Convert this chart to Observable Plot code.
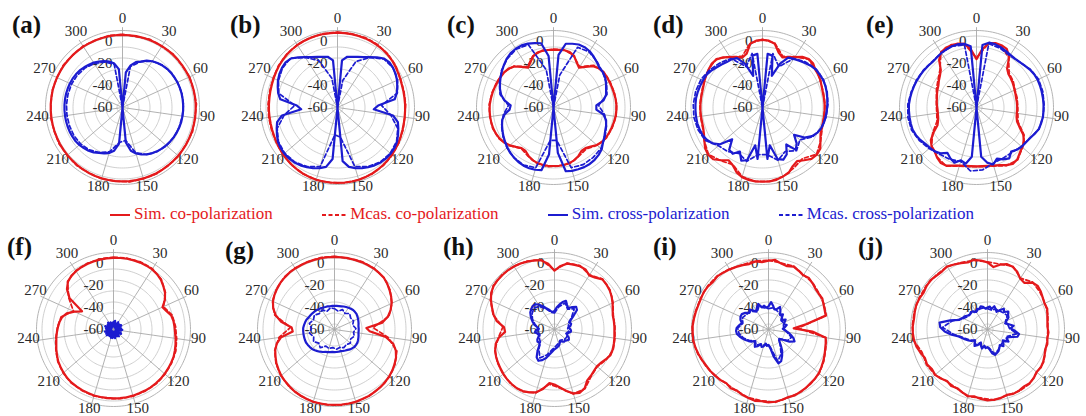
<!DOCTYPE html>
<html><head><meta charset="utf-8">
<script src="https://cdn.jsdelivr.net/npm/d3@7"></script>
<script src="https://cdn.jsdelivr.net/npm/@observablehq/plot@0.6"></script>
<style>
html,body{margin:0;padding:0;background:#fff;}
#root{position:relative;width:1086px;height:416px;overflow:hidden;font-family:"Liberation Serif","Tinos","Times New Roman","DejaVu Serif",serif;background:#fff;}
.panel{position:absolute;width:200px;height:200px;}
.panel svg{overflow:visible;}
.tag{position:absolute;font-weight:bold;font-size:25px;line-height:25px;color:#111;z-index:5;}
#legend{position:absolute;left:110px;width:864px;top:204px;height:20px;display:flex;justify-content:space-between;align-items:center;font-size:17px;line-height:20px;z-index:5;}
#legend .item{display:flex;align-items:center;white-space:nowrap;}
#legend svg{margin-right:2px;}
</style></head>
<body><div id="root"></div>
<script>
// ---- axis / tick definitions ----
const angleTicks = [0, 30, 60, 90, 120, 150, 180, 210, 240, 270, 300];
const ringLevels = [-60, -50, -40, -30, -20, -10, 0];
const ringLabels = [0, -20, -40, -60];
const DB_MIN = -65, DB_MAX = 5;
const FULL_TURN = 330;          // the 11 labelled spokes share the full circle
const seriesNames = ["Sim. co-polarization", "Mcas. co-polarization", "Sim. cross-polarization", "Mcas. cross-polarization"];
const panelTags = ["(a)","(b)","(c)","(d)","(e)","(f)","(g)","(h)","(i)","(j)"];

// ---- data (dB), sim series: 66 samples around the circle, measured: 33 samples ----
const simCoA = [1.0,1.0,1.1,1.1,1.2,1.3,1.3,1.4,1.4,1.5,1.5, 1.5,1.6,1.6,1.6,1.6,1.6,1.6,1.7,1.7,1.8,1.8, 1.9,1.9,2.0,2.0,2.1,2.1,2.2,2.2,2.2,2.2,2.2, 2.2,2.2,2.1,2.1,2.0,1.9,1.8,1.6,1.4,1.2,1.0, 0.8,0.6,0.5,0.4,0.3,0.3,0.3,0.3,0.4,0.4,0.5, 0.5,0.6,0.6,0.7,0.7,0.8,0.8,0.9,0.9,1.0,1.0];
const measCoA = [1.5,0.6,1.8,1.0,2.0,1.2,2.2,1.5,2.3,1.4,2.4,1.7,2.6,2.0,2.8,2.4,2.9,2.3,2.6,1.9,2.2,1.4,1.5,0.7,0.9,0.2,0.8,0.4,1.2,0.6,1.4,0.9,1.6];
const simCrossA = [-65,-33,-26,-22,-20,-17,-15,-13.5,-12.3,-11.3,-10.8, -10.4,-10.1,-9.9,-9.8,-9.8,-9.8,-9.8,-9.9,-10,-10.3,-10.7, -11.2,-11.8,-12.5,-13.3,-14.3,-15.5,-17,-19,-21.5,-25,-33, -65,-32,-25,-22,-20,-18.5,-16.5,-15,-14,-13,-12.5, -12.3,-12.2,-12.2,-12.2,-12.2,-12.2,-12.2,-12.2,-12.2,-12.3,-12.4, -12.6,-13,-13.5,-14.5,-15.5,-16.5,-18,-19.5,-21.5,-24,-30];
const measCrossA = [-65,-27,-20,-15,-12,-10.5,-10,-9.5,-9.5,-10,-10.5,-11,-12,-14,-17,-22,-35,-33,-23,-19,-16,-14.5,-14,-14,-14,-14,-14,-14,-14.5,-15.5,-17.5,-20.5,-25];

const simCoB = [3.0,3.0,2.9,2.8,2.7,2.5,2.2,1.8,1.2,0.5,-0.5, -1.5,-2.3,-3.0,-3.3,-3.5,-3.5,-3.5,-3.3,-3.0,-2.5,-1.8, -1.0,-0.3,0.5,1.2,1.8,2.3,2.8,3.2,3.4,3.5,3.5, 3.5,3.5,3.5,3.4,3.2,2.8,2.3,1.7,1.0,0.3,-0.5, -1.2,-1.8,-2.2,-2.5,-2.6,-2.6,-2.6,-2.5,-2.2,-1.8,-1.2, -0.5,0.3,1.0,1.6,2.1,2.5,2.8,2.9,3.0,3.0,3.0];
const measCoB = [3.5,3.2,3.4,2.8,1.8,0.2,-2.0,-2.8,-3.0,-3.2,-2.0,-0.6,1.0,2.2,3.2,3.6,3.8,3.6,3.5,3.0,2.0,0.6,-0.8,-1.6,-1.8,-1.8,-1.6,-0.8,0.8,2.0,2.8,3.2,3.4];
const simCrossB = [-65,-22,-18,-17,-15.5,-13.5,-10.5,-7,-3.5,-2.5,-3, -4,-5.5,-7.5,-9.5,-12.5,-28,-32,-14,-8.5,-6.5,-4.5, -2.5,-1.5,-1,-1,-1.5,-2.5,-4,-5.5,-7.5,-10,-16, -65,-18,-10,-7.5,-5.5,-4,-2.5,-1.5,-1,-1,-1.5, -2.5,-4.5,-6.5,-8.5,-14,-32,-28,-12.5,-9.5,-7.5,-5.5, -4,-3,-2.5,-3.5,-7,-10.5,-13.5,-15.5,-17,-18,-22];
const measCrossB = [-65,-40,-20,-11,-4,-3,-5,-9,-25,-16,-7,-3,-1.5,-2,-4.5,-9,-38,-40,-9,-4.5,-2,-1.5,-3,-7,-16,-26,-10,-6,-3.5,-3,-11,-19,-38];

const simCoC = [-12.5,-12.3,-12,-12.5,-14.5,-19,-22,-18,-13,-10.5,-9.5, -9,-9,-8.8,-8.5,-8,-7.8,-7.8,-8,-8.5,-9,-9.5, -10,-11,-13,-16,-18,-18,-15.5,-13.5,-12.5,-12,-11.8, -11.8,-11.8,-12,-12.5,-13.5,-15.5,-18,-18,-15.5,-12.5,-10, -8.5,-7.5,-7,-6.8,-6.8,-6.8,-7,-7.5,-8,-8.5,-9, -9.5,-10,-11,-13.5,-18,-22,-19,-15,-13,-12.5,-12.5];
const measCoC = [-12,-11.5,-15,-21,-12,-9,-8.5,-8,-7.5,-7.5,-8.5,-9.5,-12.5,-17,-15,-12,-11.5,-11,-12,-15,-17.5,-12,-8,-6.5,-6.5,-6.5,-7.5,-8.5,-9.5,-13,-21,-14.5,-12];
const simCrossC = [-65,-17,-6,-4.6,-3.3,-3.3,-4.2,-6,-8,-9.8,-9.8, -10.7,-12.5,-14.4,-15.8,-19,-26,-26,-19,-15.8,-14.4,-13.4, -11.6,-9.8,-7,-5.5,-4.5,-4,-4,-4.5,-5,-6,-23.6, -65,-22,-7,-6,-5.5,-5.5,-6,-7,-8,-9.5,-11, -12.5,-14,-15.5,-17,-20,-25,-26,-20,-16,-13.5,-11.5, -9.5,-7.5,-5.5,-3.5,-2,-1.5,-1.5,-2.5,-4,-5.5,-18];
const measCrossC = [-65,-35,-6,-5,-7.5,-10,-12,-15,-24,-18,-14,-11,-8,-7,-6.5,-8,-35,-35,-8,-6,-7,-9,-12,-15,-19,-24,-15,-11,-7,-4,-2,-3.5,-30];

const simCoD = [-3.5,-4,-6,-13,-16,-13.4,-10.6,-6.4,-4,-4,-6, -6,-7,-8,-8.5,-8.5,-8.5,-8.5,-8.5,-8.5,-8,-7, -4.2,-0.5,0.4,-0.5,-4,-7,-5,-1,0.5,2,2.5, 2.5,2.5,2,1,-1.5,-6,-8,-4,0,0.5,-1, -4,-6.5,-8,-8.5,-8.5,-8.5,-8.5,-8.5,-8.5,-8,-7, -6,-5,-4,-4.5,-7,-10.5,-13.5,-16,-14,-6,-4];
const measCoD = [-3,-5.5,-15,-10,-4.5,-5.5,-7,-8,-8,-8.5,-7.5,-4,0,-6,-3,0.5,2.5,2.5,0.5,-6.5,-3.5,0,-4,-7.5,-8,-8,-8,-6.5,-5,-4,-10,-15,-5.5];
const simCrossD = [-65,-16,-17,-35,-22,-14,-12.5,-11,-9,-7,-5.5, -5,-4.5,-4.5,-5,-5.5,-6,-6.5,-7,-7.5,-8.5,-10, -13,-18,-27,-20,-16,-25,-17,-14,-16,-30,-18, -65,-18,-30,-15,-13,-20,-15,-16,-25,-14,-9, -6.5,-5,-4.5,-4,-4,-4,-4,-4,-4.5,-5,-5.5, -6,-7.5,-9.5,-11,-12.5,-13,-14.5,-22,-35,-17,-16];
const measCrossD = [-65,-15,-25,-12,-8,-5,-4,-4.5,-5.5,-6.5,-8,-12,-20,-15,-20,-15,-22,-22,-14,-18,-14,-12,-5,-3,-2,-2,-2.5,-3.5,-6,-9,-12,-25,-15];

const simCoE = [-21,-12,-5.5,-4,-4,-5,-10,-20,-23,-24,-25, -26,-27,-27.5,-28,-28,-28,-28,-28,-27.5,-26,-22, -16,-12,-10,-8,-5,-4,-6,-8.5,-10,-11,-11.5, -11.5,-11.5,-11,-10,-8,-5.5,-5,-7,-10,-11,-14, -20,-26,-28,-29,-29.5,-29.5,-29,-28.5,-28,-27,-26, -25,-23,-21,-18,-10,-5.5,-4,-4,-4.5,-6,-12];
const measCoE = [-20,-5,-4.5,-11,-22,-24,-26.5,-27,-27.5,-27,-25,-15,-9.5,-4.5,-5.5,-9.5,-11,-11,-9.5,-5,-7.5,-11,-19,-27,-28.5,-28.5,-27.5,-25,-22,-17,-5,-3.5,-6];
const simCrossE = [-65,-8,-5,-5,-6,-7,-8,-8.5,-8,-7,-5.5, -4.5,-4,-4,-4,-4,-4,-4,-4,-4.5,-5,-7, -9,-10,-10.5,-12,-14,-10,-12,-15,-11,-14,-20, -65,-20,-13,-15,-11,-13,-16,-12,-10,-9,-8, -6,-4.5,-3.5,-3.5,-3.5,-3.5,-3.5,-4,-4.5,-5,-5.5, -6,-6.5,-7,-7.5,-7,-6,-5.5,-5,-5,-6,-9];
const measCrossE = [-65,-6,-7,-9,-8,-5,-3,-3,-3.5,-4,-5,-9,-11,-13,-13,-12,-8,-7,-14,-12,-11,-8,-5,-2.5,-2,-2.5,-4,-5,-6,-7,-6,-5,-7];

const simCoF = [0,0.3,0.5,0.5,0.5,0.3,0,-1,-2.5,-5,-7.5, -11,-16,-14,-11,-10,-9.5,-9,-8,-7,-6,-5, -4.5,-4,-3.5,-3,-2.8,-2.5,-2.5,-2.5,-2.3,-2.3,-2.3, -2.3,-2.5,-2.5,-2.5,-2.8,-3,-3.3,-3.5,-4,-5,-6, -7,-8.5,-10,-11.5,-12.5,-13.5,-14.5,-15.5,-17,-20,-26, -32,-16,-9,-5,-3,-2,-1.3,-0.8,-0.5,-0.3,-0.1];
const measCoF = [0.8,1,1.2,0.6,-2,-7,-15,-10,-8.5,-7,-5,-4,-3,-2.2,-2,-1.8,-1.8,-2,-2,-2.5,-3,-4.5,-6.5,-9.5,-12,-14,-16,-25,-15,-4.5,-1.5,-0.3,0.3];
const simCrossF = [-58,-62,-57,-61,-59,-63,-57,-60,-62,-58,-61, -57,-63,-59,-60,-58,-62,-57,-61,-63,-58,-60, -57,-62,-59,-61,-57,-63,-58,-60,-62,-57,-59, -61,-58,-63,-57,-60,-62,-58,-61,-59,-57,-63, -60,-58,-62,-57,-61,-59,-63,-58,-60,-57,-62, -59,-61,-58,-63,-57,-60,-62,-58,-61,-59,-60];
const measCrossF = [-60,-57,-62,-58,-61,-59,-57,-63,-58,-60,-62,-57,-61,-59,-58,-63,-60,-57,-62,-58,-61,-59,-57,-63,-60,-58,-62,-57,-61,-59,-58,-62,-60];

const simCoG = [1,1,1,1,1,1,1,0.5,0,-1.5,-3.5, -5.5,-8,-11,-15,-21,-36,-33,-18,-10,-6,-3.5, -2,-0.5,0.5,1.5,2,2.5,3,3,3.5,3.5,3.5, 3.5,3.5,3.5,3.5,3,2.5,2,1,0,-1,-2.5, -4,-6,-8,-11,-16,-27,-26,-16,-10,-6,-3.5, -2,-1,0,0.5,1,1,1,1,1,1,1];
const measCoG = [1.5,0.8,1.6,1.2,0.2,-3,-7.5,-14,-30,-16,-5,-1.5,1,2,3.2,3.8,4,3.8,3.6,2.8,1.5,-0.5,-3.5,-7.5,-14,-25,-9,-3,-0.5,1,1.5,1.2,1.6];
const simCrossG = [-43.5,-43.5,-43.3,-43,-42.5,-42,-41.5,-41,-40.5,-40.5,-40.5, -41,-41.5,-42,-42.5,-43,-43,-43,-43,-42.5,-42,-41.5, -41,-41,-41,-41.5,-42,-43,-43.5,-44,-44.5,-44.5,-44.5, -44.5,-44.5,-44,-43.5,-43,-42,-41,-40,-39,-38,-37.5, -37,-36.5,-36.5,-36.5,-36.5,-36.5,-36.5,-37,-37.5,-38,-39, -39.5,-40,-40.5,-41,-41.5,-42,-42.5,-43,-43,-43.5,-43.5];
const measCrossG = [-46,-48,-45.5,-47.5,-45,-47,-46,-48,-45.5,-47.5,-46,-48,-46,-47.5,-46.5,-48,-47,-48.5,-47,-48,-44,-46,-43,-45,-42,-44,-41.5,-44,-42.5,-45,-44,-47,-45];

const simCoH = [-11.5,-7,-4,-3.5,-3,-3.5,-6.5,-5,-2,-2.5,-3.5, -5,-7,-9,-10.5,-10.5,-10.5,-10.5,-10,-9.5,-9,-9, -11,-13,-14,-13,-11.5,-10,-5,-3,-4.5,-8,-12, -15,-16,-10,-5.5,-3.5,-2,-1.5,-2,-2.5,-3.5,-4.5, -5.5,-6.5,-8,-10,-14,-20,-19,-12,-8,-5,-1.5, 1.5,3,3.5,3.5,3.5,3,2.5,1.5,0.5,-1,-5];
const measCoH = [-11,-3.5,-2.5,-6,-1.5,-3,-6.5,-10,-10,-9.5,-8.5,-10.5,-13.5,-11,-4.5,-4,-11.5,-15,-5,-1.5,-1.5,-3,-5,-7.5,-13.5,-18,-7.5,-1,3.5,4,3.5,2,-0.5];
const simCrossH = [-48,-45,-42,-39,-37,-40,-42,-39,-36.5,-38,-44, -48,-50,-49,-50,-52,-51,-50,-50,-52,-53,-52, -50,-49,-50,-51,-51,-52,-53,-52,-50,-49,-48, -47,-45,-42,-38,-35,-33,-35,-40,-45,-47,-46, -47,-49,-50,-49,-47,-48,-50,-49,-46,-44,-42, -40,-38,-37,-36,-36,-38,-41,-44,-46,-48,-49];
const measCrossH = [-50,-44,-39,-43,-39,-46,-51,-52,-53,-52,-54,-52,-52,-53,-54,-52,-50,-47,-41,-36,-42,-48,-49,-51,-49,-51,-47,-43,-40,-38,-40,-45,-49];

const simCoI = [-2.5,-1.5,-4,-5,-3.5,-5,-6.5,-5.5,-7,-8.5,-9, -8.5,-10,-11,-11.5,-30,-42,-25,-12.5,-11.5,-10.5,-9, -7.5,-6,-4.5,-3.5,-3,-2,-1.5,-0.5,-1,0,1, 1.3,0.5,1,0,-1,-2.5,-1.5,-3,-1.5,-1,0, 0.5,1.5,2.5,3.5,4,4,4,3.5,3,2.5,2.5, 3,2.5,1.5,2,1,0,-1,-2,-3,-2,-3.5];
const measCoI = [-2,-3.5,-3,-6,-6.5,-8.5,-9.5,-11,-38,-12,-10,-7,-4,-2.5,-1,-0.5,1.5,0,-0.5,-2,-2.5,-0.5,1,3,4.5,4.5,3.5,3,3,2.5,0.5,-1.5,-1.5];
const simCrossI = [-44,-40,-43,-46,-45,-42,-45,-48,-46,-49,-50, -47,-49,-50,-48,-50,-52,-50,-47,-44,-41,-39, -43,-49,-52,-51,-47,-42,-38,-34,-33,-40,-48, -51,-50,-52,-49,-48,-50,-47,-45,-47,-49,-46, -44,-42,-40,-38,-36,-35.5,-36,-38,-40,-38,-37, -37,-39,-42,-40,-43,-45,-42,-40,-44,-43,-45];
const measCrossI = [-46,-45,-46,-47,-48,-51,-50,-51,-51,-48,-43,-45,-52,-48,-40,-35,-49,-51,-50,-50,-47,-49,-45,-41,-38,-37,-41,-39,-41,-42,-46,-42,-45];

const simCoJ = [-4,-8,-5,-3,-3.5,-6,-10,-11,-6,-4.5,-5.5, -7,-8,-7.5,-9,-10,-10.5,-9.5,-10,-9,-9.5,-8, -6.5,-5.5,-6,-4,-3,-3.5,-2.5,-2,-3,-1.5,-1, -0.5,-1.5,-3,-2,-3.5,-5,-4,-5.5,-3.5,-2,-3, -1.5,-2.5,-0.5,1.5,2.5,3,3,2.5,3,3.5,3, 2,3,3.5,2.5,2,3,1.5,0,-1.5,-0.5,-2];
const measCoJ = [-3.5,-4.5,-3,-9.5,-5.5,-6.5,-7.5,-8.5,-10,-10,-9,-6,-5.5,-2.5,-2,-2.5,-0.5,-2.5,-1.5,-4.5,-5,-2,-1,-2,3,3.5,3.5,3.5,3.5,3,3,0.5,-1];
const simCrossJ = [-45,-44,-46,-43,-45,-47,-44,-41,-43,-40,-42, -43,-46,-48,-45,-41,-44,-40,-36,-37,-44,-46, -43,-48,-46,-44,-47,-45,-43,-42,-41,-43,-47, -49,-48,-50,-47,-49,-51,-48,-46,-48,-50,-47, -45,-43,-41,-38,-32,-26,-22,-21,-30,-38,-40, -41,-43,-44,-43,-44,-46,-44,-45,-43,-44,-46];
const measCrossJ = [-46,-47,-45,-45,-44,-43,-47,-46,-45,-38,-46,-44,-47,-46,-44,-42,-48,-49,-48,-52,-47,-50,-46,-42,-34,-24,-32,-41,-44,-44,-46,-45,-45];

// ---- layout (panel centres in page pixels) ----
const layout = [
  {cx:122, cy:107, tx:12,  ty:12},
  {cx:337, cy:107, tx:230, ty:12},
  {cx:553, cy:107, tx:447, ty:12},
  {cx:762, cy:107, tx:653, ty:12},
  {cx:976, cy:107, tx:866, ty:12},
  {cx:113, cy:329, tx:7,   ty:234},
  {cx:334, cy:329, tx:225, ty:238},
  {cx:554, cy:329, tx:443, ty:234},
  {cx:768, cy:329, tx:653, ty:234},
  {cx:987, cy:329, tx:858, ty:234}
];
const seriesData = [
  [simCoA, measCoA, simCrossA, measCrossA],
  [simCoB, measCoB, simCrossB, measCrossB],
  [simCoC, measCoC, simCrossC, measCrossC],
  [simCoD, measCoD, simCrossD, measCrossD],
  [simCoE, measCoE, simCrossE, measCrossE],
  [simCoF, measCoF, simCrossF, measCrossF],
  [simCoG, measCoG, simCrossG, measCrossG],
  [simCoH, measCoH, simCrossH, measCrossH],
  [simCoI, measCoI, simCrossI, measCrossI],
  [simCoJ, measCoJ, simCrossJ, measCrossJ]
];

const RED = "#e41a1c", BLUE = "#1c1cd0";
const FONT = "'Liberation Serif', Tinos, 'Times New Roman', 'DejaVu Serif', serif";
const styles = [
  {stroke: RED,  strokeWidth: 2.2, dash: null},
  {stroke: RED,  strokeWidth: 1.7, dash: "4,2.5"},
  {stroke: BLUE, strokeWidth: 2.2, dash: null},
  {stroke: BLUE, strokeWidth: 1.7, dash: "4,2.5"}
];

// polar -> (longitude, latitude) for the azimuthal-equidistant projection
const lon = a => 180 - a * 360 / FULL_TURN;
const lat = v => 90 - (Math.max(v, DB_MIN) - DB_MIN);
const toRows = values => values.map((v, i) => ({a: i * FULL_TURN / values.length, v}));
const SPAN = DB_MAX - DB_MIN;

const root = document.getElementById("root");

seriesData.forEach((set, idx) => {
  const L = layout[idx];
  const lineMarks = set.map((vals, s) => Plot.line(toRows(vals), {
    x: d => lon(d.a), y: d => lat(d.v),
    stroke: styles[s].stroke, strokeWidth: styles[s].strokeWidth,
    strokeDasharray: styles[s].dash || undefined,
    curve: "linear-closed", strokeLinejoin: "round"
  }));
  const svg = Plot.plot({
    width: 200, height: 200, margin: 0,
    style: {background: "transparent", overflow: "visible", fontFamily: FONT},
    projection: {
      type: "azimuthal-equidistant",
      rotate: [0, -90],
      domain: d3.geoCircle().center([0, 90]).radius(SPAN)(),
      inset: 23
    },
    marks: [
      Plot.geo(ringLevels, {geometry: d => d3.geoCircle().center([0, 90]).radius(d - DB_MIN)(), stroke: "#cacaca", strokeWidth: 0.9, fill: "none"}),
      Plot.geo([DB_MAX], {geometry: d => d3.geoCircle().center([0, 90]).radius(d - DB_MIN)(), stroke: "#b4b4b4", strokeWidth: 1, fill: "none"}),
      Plot.link(angleTicks, {x1: d => lon(d), y1: () => 89.999, x2: d => lon(d), y2: () => 90 - SPAN - 3, stroke: "#a8a8a8", strokeWidth: 0.9}),
      Plot.text(angleTicks, {x: d => lon(d), y: () => 90 - SPAN - 8, text: d => String(d), dy: -4, fontSize: 15, fontFamily: FONT, fill: "#2a2a2a"}),
      Plot.text(ringLabels, {x: () => 180, y: d => lat(d), text: d => String(d), textAnchor: "end", dx: -10, dy: 5, fontSize: 15, fontFamily: FONT, fill: "#2a2a2a"}),
      ...lineMarks
    ]
  });
  const holder = document.createElement("div");
  holder.className = "panel";
  holder.style.left = (L.cx - 100) + "px";
  holder.style.top = (L.cy - 100) + "px";
  holder.appendChild(svg);
  root.appendChild(holder);

  const tag = document.createElement("div");
  tag.className = "tag";
  tag.style.left = L.tx + "px";
  tag.style.top = L.ty + "px";
  tag.textContent = panelTags[idx];
  root.appendChild(tag);
});

// ---- legend ----
const legend = document.createElement("div");
legend.id = "legend";
seriesNames.forEach((name, s) => {
  const item = document.createElement("div");
  item.className = "item";
  item.style.color = styles[s].stroke;
  const w = styles[s].dash ? 24 : 20;
  const sw = d3.create("svg").attr("width", w + 2).attr("height", 14);
  sw.append("line").attr("x1", 0).attr("x2", w).attr("y1", 8).attr("y2", 8)
    .attr("stroke", styles[s].stroke).attr("stroke-width", 2)
    .attr("stroke-dasharray", styles[s].dash ? "4,2.5" : null);
  item.appendChild(sw.node());
  const span = document.createElement("span");
  span.textContent = name;
  item.appendChild(span);
  legend.appendChild(item);
});
root.appendChild(legend);
</script>
</body></html>
